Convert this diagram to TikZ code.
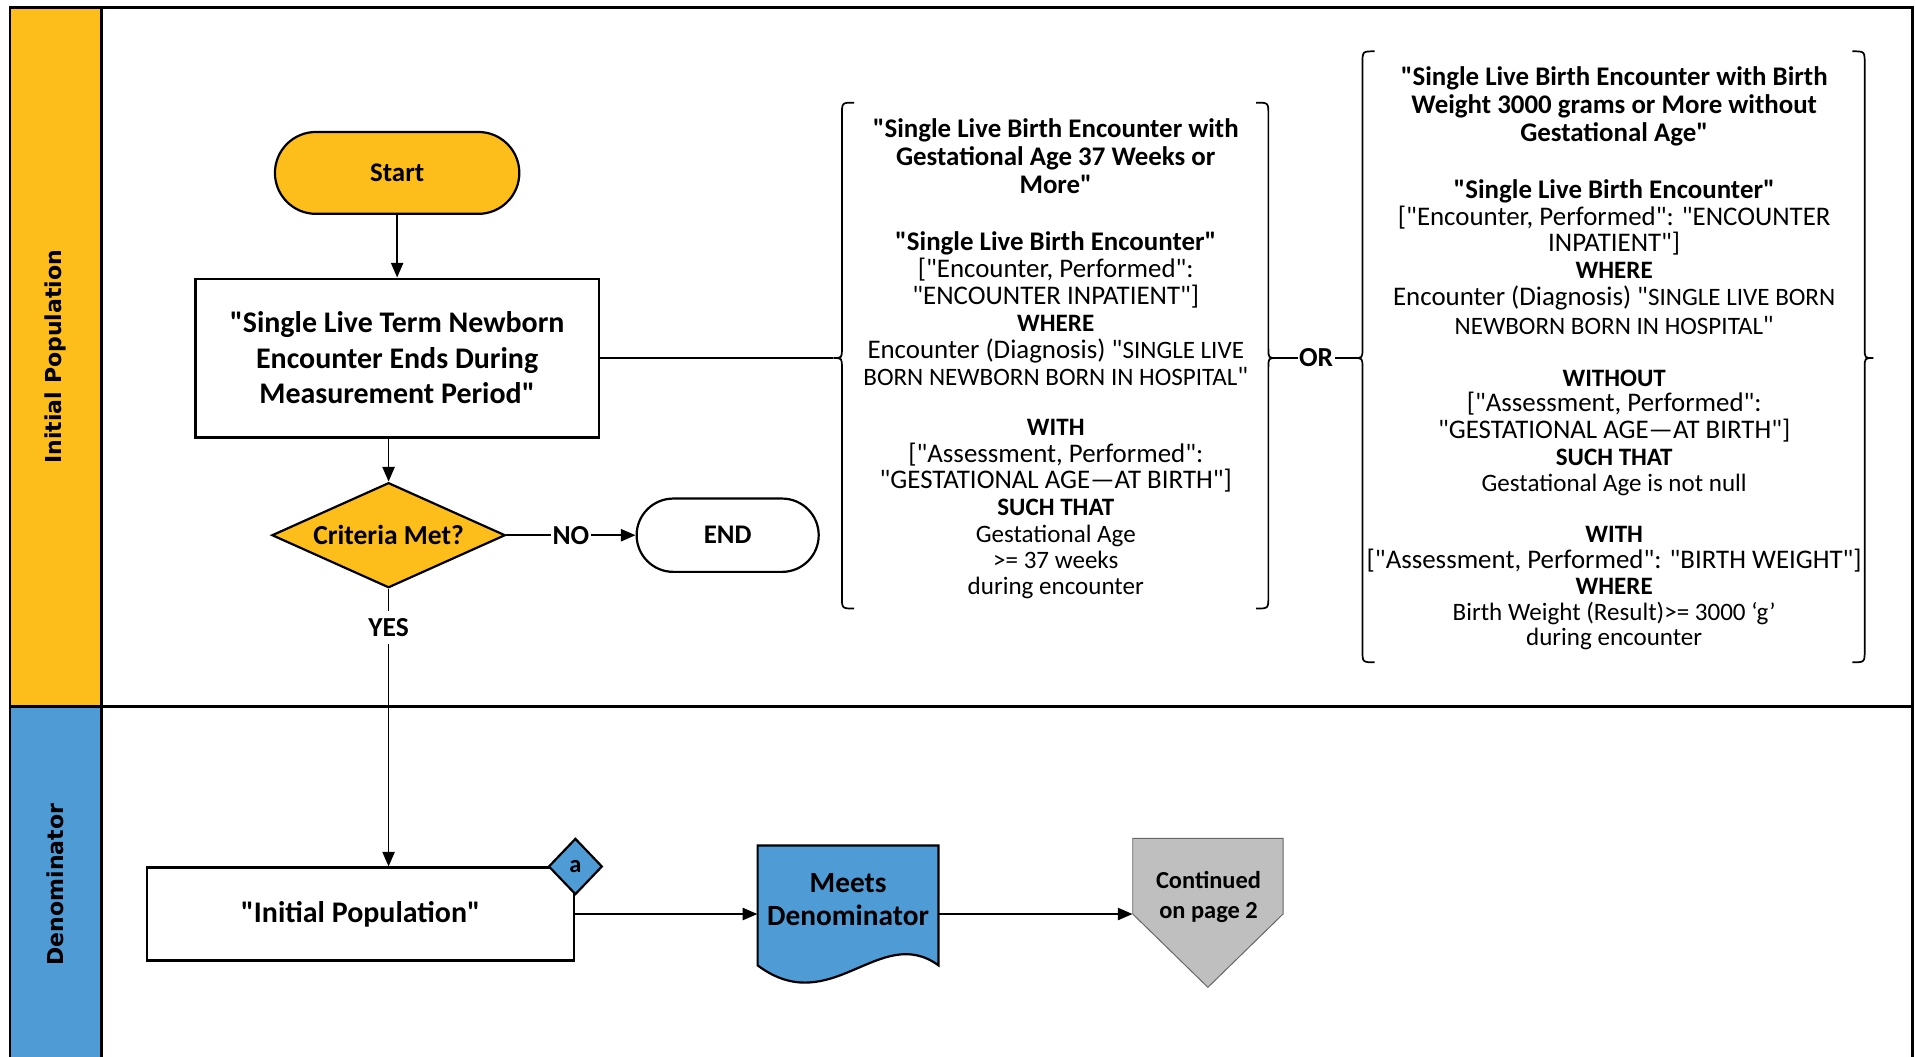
\documentclass[tikz,border=0pt]{standalone}
\usepackage{fontspec}
\setmainfont{Carlito}[Ligatures=TeXOff]
\newfontfamily\lanefont{DejaVu Sans}
\usetikzlibrary{shapes.geometric,shapes.misc,arrows.meta}
\definecolor{ipyellow}{HTML}{FDBD1B}
\definecolor{denblue}{HTML}{4E9BD6}
\definecolor{contgray}{HTML}{BFBFBF}
\newcommand{\szs}{\fontsize{20.5}{22}\selectfont}
\newcommand{\drawlbrace}[4]{%
  \draw[bracestyle] ({#1+10},#2) .. controls (#1,#2) .. (#1,{#2+10}) -- (#1,{#3-8}) .. controls (#1,#3) .. ({#1-7},#3) .. controls (#1,#3) .. (#1,{#3+8}) -- (#1,{#4-10}) .. controls (#1,#4) .. ({#1+10},#4);}
\newcommand{\drawrbrace}[4]{%
  \draw[bracestyle] ({#1-10},#2) .. controls (#1,#2) .. (#1,{#2+10}) -- (#1,{#3-8}) .. controls (#1,#3) .. ({#1+7},#3) .. controls (#1,#3) .. (#1,{#3+8}) -- (#1,{#4-10}) .. controls (#1,#4) .. ({#1-10},#4);}
\begin{document}
\begin{tikzpicture}[x=1pt,y=-1pt,
  conn/.style={line width=1.4pt},
  arr/.style={conn,-{Triangle[length=12pt,width=10pt]}},
  bracestyle/.style={line width=1.4pt},
  boxshape/.style={draw,line width=1.8pt,fill=white},
  term/.style={rounded rectangle,draw,line width=1.8pt,inner sep=0pt,font=\bfseries\fontsize{22}{26}\selectfont},
  lbl/.style={fill=white,font=\bfseries\fontsize{22.5}{26}\selectfont},
  lanelbl/.style={rotate=90,font=\lanefont\bfseries\fontsize{18}{20}\selectfont},
  critblock/.style={align=center,anchor=north,inner sep=0pt,font=\fontsize{22}{22}\selectfont}]
\useasboundingbox (0,0) rectangle (1568,865);
% lanes
\fill[ipyellow] (8,6) rectangle (83,578);
\fill[denblue] (8,578) rectangle (83,866);
\draw[line width=2pt] (8,866) -- (8,6) -- (1565,6) -- (1565,866);
\draw[line width=2pt] (83,6) -- (83,866);
\draw[line width=2pt] (8,578) -- (1565,578);
\node[lanelbl] (lblip) at (45,292) {Initial Population};
\node[lanelbl] (lblden) at (45,724) {Denominator};
% flow
\node[term,fill=ipyellow,minimum width=200pt,minimum height=67pt] (start) at (325,141.5) {Start};
\node[boxshape,minimum width=330pt,minimum height=130pt,align=center,inner sep=0pt,
  font=\bfseries\fontsize{24.5}{29}\selectfont] (encbox) at (325,293)
  {"Single Live Term Newborn\\Encounter Ends During\\Measurement Period"};
\node[diamond,draw,line width=1.8pt,fill=ipyellow,minimum width=191pt,minimum height=86pt,aspect=2.2,inner sep=0pt,
  font=\bfseries\fontsize{22.5}{26}\selectfont] (crit) at (318,438) {Criteria Met?};
\node[term,fill=white,minimum width=149pt,minimum height=60pt] (endn) at (595.5,438) {END};
\node[boxshape,minimum width=350pt,minimum height=76pt,inner sep=0pt,
  font=\bfseries\fontsize{24.5}{29}\selectfont] (ip) at (295,748) {"Initial Population"};
\node[diamond,draw,line width=1.8pt,fill=denblue,minimum width=44pt,minimum height=46pt,aspect=1,inner sep=0pt,
  font=\bfseries\fontsize{20}{22}\selectfont] (adia) at (ip.north east) {a};
% document shape
\path node[minimum width=148pt,minimum height=98pt,inner sep=0pt] (meets) at (694,741) {};
\draw[line width=1.8pt,fill=denblue] (620,692) -- (768,692) -- (768,790) .. controls (720,755) and (680,835) .. (620,790) -- cycle;
\node[align=center,font=\bfseries\fontsize{24}{27}\selectfont] (meetstxt) at (694,736) {Meets\\Denominator};
% off-page connector
\path node[minimum width=123pt,minimum height=122pt,inner sep=0pt] (cont) at (988.5,747) {};
\draw[line width=0.8pt,draw=black!60,fill=contgray] (927,686) -- (1050,686) -- (1050,748) -- (988.5,808) -- (927,748) -- cycle;
\node[align=center,font=\bfseries\fontsize{20}{24}\selectfont] (conttxt) at (989,734) {Continued\\on page 2};
% connectors
\draw[arr] (start.south) -- (encbox.north);
\draw[arr] (encbox.south -| crit.north) -- (crit.north);
\draw[arr] (crit.east) -- node[lbl,inner xsep=1pt] (nolbl) {NO} (endn.west);
\draw[arr] (crit.south) -- node[lbl,pos=0.14,inner xsep=2pt,inner ysep=6pt] (yeslbl) {YES} (crit.south |- ip.north);
\draw[arr] (ip.east) -- (ip.east -| meets.west);
\draw[arr] (ip.east -| meets.east) -- (ip.east -| cont.west);
% braces
\drawlbrace{689}{84}{293}{498}
\drawrbrace{1038}{84}{293}{498}
\drawlbrace{1115}{42}{293}{542}
\drawrbrace{1526}{42}{293}{542}
\coordinate (b1l) at (682,293);
\coordinate (b1r) at (1045,293);
\coordinate (b2l) at (1108,293);
\node[font=\bfseries\fontsize{22.5}{26}\selectfont,inner xsep=1pt] (ornode) at (1077,293) {OR};
\draw[conn] (encbox.east) -- (b1l);
\draw[conn] (b1r) -- (ornode.west);
\draw[conn] (ornode.east) -- (b2l);
% criteria texts
\node[critblock] (crit1) at (864,96.5) {%
\textbf{"Single Live Birth Encounter with}\\[1pt]
\textbf{Gestational Age 37 Weeks or}\\[1pt]
\textbf{More"}\\[25pt]
\textbf{"Single Live Birth Encounter"}\\
{[}"Encounter, Performed":\\
"ENCOUNTER INPATIENT"]\\
{\szs\bfseries WHERE}\\
Encounter (Diagnosis) "{\szs SINGLE LIVE}\\
{\szs BORN NEWBORN BORN IN HOSPITAL}"\\[19pt]
{\szs\bfseries WITH}\\
{[}"Assessment, Performed":\\
"GESTATIONAL AGE—AT BIRTH"]\\
{\szs\bfseries SUCH THAT}\\
{\szs Gestational Age}\\[-1pt]
{\szs >= 37 weeks}\\[-1pt]
{\szs during encounter}};
\node[critblock] (crit2) at (1321,54.5) {%
\textbf{"Single Live Birth Encounter with Birth}\\[1pt]
\textbf{Weight 3000 grams or More without}\\[1pt]
\textbf{Gestational Age"}\\[24pt]
\textbf{"Single Live Birth Encounter"}\\
{[}"Encounter, Performed": "ENCOUNTER\\
INPATIENT"]\\
{\szs\bfseries WHERE}\\
Encounter (Diagnosis) "{\szs SINGLE LIVE BORN}\\[2pt]
{\szs NEWBORN BORN IN HOSPITAL}"\\[20pt]
{\szs\bfseries WITHOUT}\\[-1pt]
{[}"Assessment, Performed":\\
"GESTATIONAL AGE—AT BIRTH"]\\
{\szs\bfseries SUCH THAT}\\[-1pt]
{\szs Gestational Age is not null}\\[20pt]
{\szs\bfseries WITH}\\[-1pt]
{[}"Assessment, Performed": "BIRTH WEIGHT"]\\[-1pt]
{\szs\bfseries WHERE}\\
{\szs Birth Weight (Result)>= 3000 ‘g’}\\[-2pt]
{\szs during encounter}};
\end{tikzpicture}
\end{document}
